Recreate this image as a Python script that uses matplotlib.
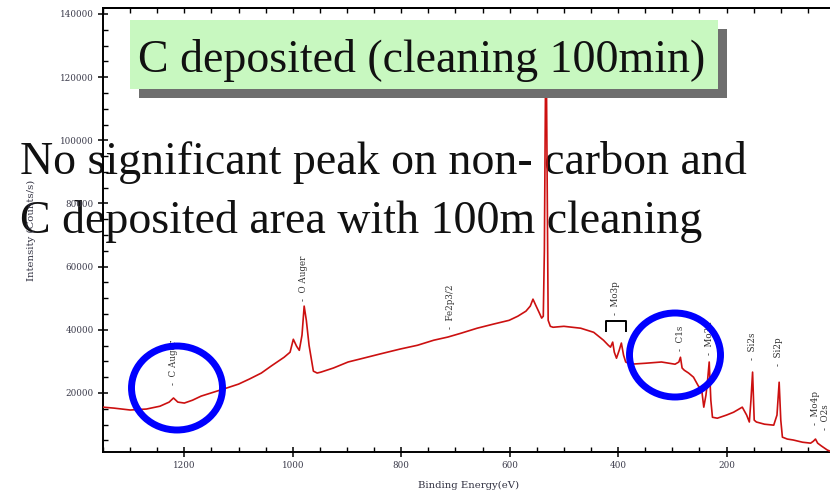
import matplotlib
matplotlib.use("Agg")
import matplotlib.pyplot as plt
import matplotlib.patches as patches
from matplotlib.ticker import MultipleLocator, FixedLocator

# XPS survey spectrum (binding energy in eV, intensity in counts/s)
energy = [1350, 1330, 1300, 1270, 1245, 1228, 1220, 1212, 1200, 1185, 1169, 1145,
          1123, 1100, 1080, 1058, 1040, 1016, 1005, 999, 993, 988, 983, 979, 975,
          970, 962, 955, 948, 925, 898, 870, 840, 802, 770, 740, 714, 690, 660,
          630, 601, 585, 570, 562, 557, 552, 546, 541, 538, 536, 534, 533, 532,
          529, 525, 520, 500, 469, 445, 427, 418, 414, 410, 407, 403, 398, 394,
          390, 386, 377, 350, 320, 295, 288, 285, 282, 278, 270, 261, 252, 246,
          242, 238, 235, 232, 229, 226, 217, 200, 187, 171, 163, 158, 155, 152,
          149, 145, 130, 113, 107, 103, 100, 97, 88, 77, 60, 45, 40, 36, 32, 25,
          14, 5]
intensity = [15500, 15200, 14600, 14900, 15800, 17100, 18400, 17100, 16800, 17700,
             19000, 20300, 21500, 22800, 24400, 26300, 28500, 31300, 32900, 37000,
             34800, 33500, 38300, 47500, 43000, 35100, 26900, 26300, 26600, 27900,
             29800, 31000, 32300, 33900, 35100, 36700, 37700, 38900, 40500, 41800,
             43000, 44300, 45900, 47500, 49700, 47800, 45600, 43700, 44300, 65000,
             115000, 135000, 115000, 43000, 41100, 40800, 41100, 40500, 39200,
             36700, 35100, 34500, 36100, 32900, 31000, 33500, 35800, 32000, 29800,
             29100, 29400, 29800, 29100, 29800, 31300, 27900, 27200, 26300, 25000,
             22200, 21200, 15500, 19300, 24000, 29800, 17700, 12300, 12000, 13000,
             13900, 15500, 13000, 10800, 17700, 26600, 11400, 10800, 10100, 9800,
             13000, 23400, 11400, 6000, 5400, 5100, 4400, 4100, 4700, 5400, 4100,
             3200, 1900, 1300]

# peak labels: name, energy, intensity at the bottom of the label
peak_names = ["C Auger", "O Auger", "Fe2p3/2", "Mo3p", "C1s", "Mo3d",
              "Si2s", "Si2p", "Mo4p", "O2s"]
peak_energy = [1220, 981, 710, 404, 285, 231, 152, 104, 36, 18]
peak_label_y = [22500, 49000, 40300, 44700, 33400, 31900, 30300, 28400, 10000, 8400]
mo3p_range = [423, 386]
mo3p_bracket_y = [39700, 42800]

x_ticks = [1200, 1000, 800, 600, 400, 200]

title = "C deposited (cleaning 100min)"
note_lines = ["No significant peak on non- carbon and",
              "C deposited area with 100m cleaning"]

W, H = 830, 494
fig = plt.figure(figsize=(W / 100, H / 100), dpi=100)
fig.patch.set_facecolor("white")

ax = fig.add_axes([103 / W, (H - 452) / H, (835 - 103) / W, (452 - 8) / H])
ax.set_facecolor("none")

ax.plot(energy, intensity, color="#cc1010", linewidth=1.2, zorder=3)

ax.set_xlim(1350, 0)
ax.set_ylim(1300, 141900)

ax.xaxis.set_major_locator(FixedLocator(x_ticks))
ax.xaxis.set_minor_locator(MultipleLocator(50))
ax.yaxis.set_major_locator(MultipleLocator(20000))
ax.yaxis.set_minor_locator(MultipleLocator(5000))

ax.tick_params(which="major", direction="inout", length=7, width=1.1,
               labelsize=6.3, labelcolor="#3a3a4a", pad=3)
ax.tick_params(which="minor", direction="in", length=3.5, width=1.0)
for lab in ax.get_xticklabels() + ax.get_yticklabels():
    lab.set_fontfamily("DejaVu Serif")

top = ax.secondary_xaxis("top")
top.xaxis.set_major_locator(MultipleLocator(50))
top.tick_params(direction="in", length=3.5, width=1.0, labeltop=False)
top.spines["top"].set_linewidth(1.4)

for side in ["left", "bottom", "top"]:
    ax.spines[side].set_linewidth(1.4)
ax.spines["right"].set_visible(False)

ax.set_xlabel("Binding Energy(eV)", fontfamily="DejaVu Serif", fontsize=7.3,
              color="#303040", labelpad=8)
ax.set_ylabel("Intensity (Counts/s)", fontfamily="DejaVu Serif", fontsize=7.3,
              color="#303040", labelpad=17.5)

for name, e, yv in zip(peak_names, peak_energy, peak_label_y):
    ax.text(e, yv, "-  " + name, rotation=90, ha="center", va="bottom",
            fontfamily="DejaVu Serif", fontsize=6.3, color="#303030", zorder=4,
            clip_on=False)

ax.plot([mo3p_range[0], mo3p_range[0], mo3p_range[1], mo3p_range[1]],
        [mo3p_bracket_y[0], mo3p_bracket_y[1], mo3p_bracket_y[1], mo3p_bracket_y[0]],
        color="black", linewidth=1.4, zorder=4)

# blue circles around the C Auger and C1s regions
for cx, cy in [(177, 388), (675, 355)]:
    ell = patches.Ellipse((cx / W, (H - cy) / H), 91 / W, 84 / H,
                          transform=fig.transFigure, fill=False,
                          edgecolor="#0000ff", linewidth=5, zorder=10)
    fig.add_artist(ell)

# title box with shadow
bx, by, bw, bh = 130, 20, 588, 69
shadow = patches.Rectangle(((bx + 9) / W, (H - by - bh - 9) / H), bw / W, bh / H,
                           transform=fig.transFigure, facecolor="#6e6e6e",
                           edgecolor="none", zorder=11)
box = patches.Rectangle((bx / W, (H - by - bh) / H), bw / W, bh / H,
                        transform=fig.transFigure, facecolor="#c8f8c0",
                        edgecolor="none", zorder=12)
fig.add_artist(shadow)
fig.add_artist(box)
fig.text(422 / W, (H - 72) / H, title, ha="center", va="baseline",
         fontfamily="Liberation Serif", fontsize=33, color="#111111", zorder=13)

# overlay note below the chart lines
for line, base in zip(note_lines, [174, 233]):
    fig.text(20 / W, (H - base) / H, line, ha="left", va="baseline",
             fontfamily="Liberation Serif", fontsize=33, color="#111111",
             zorder=-1)

fig.savefig("out.png", dpi=100, facecolor="white")
